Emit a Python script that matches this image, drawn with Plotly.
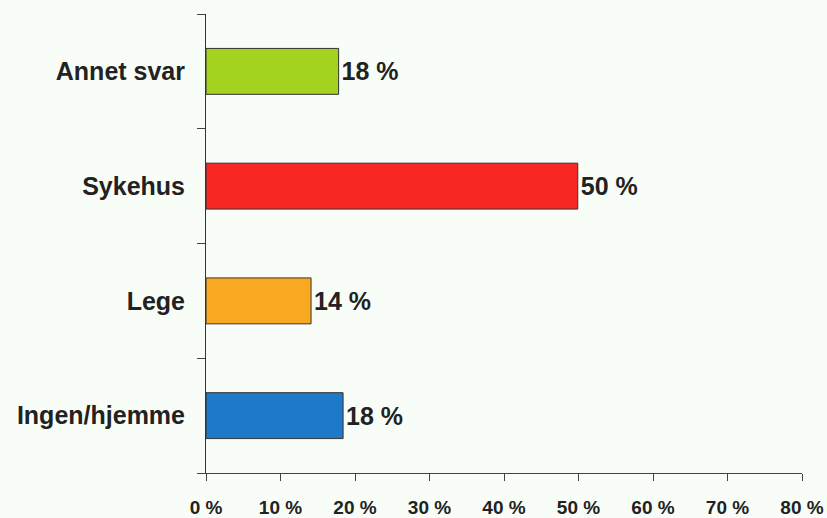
import plotly.graph_objects as go

categories = ["Ingen/hjemme", "Lege", "Sykehus", "Annet svar"]
values = [18.4, 14.1, 49.9, 17.8]
value_labels = ["18 %", "14 %", "50 %", "18 %"]
bar_colors = ["#1E79C9", "#F8A921", "#F62821", "#A3D31F"]
x_tick_values = [0, 10, 20, 30, 40, 50, 60, 70, 80]
x_tick_labels = ["0 %", "10 %", "20 %", "30 %", "40 %", "50 %", "60 %", "70 %", "80 %"]

FONT = "Liberation Sans, Arial, sans-serif"
TEXT = "#222222"
BG = "#F8FEF7"

fig = go.Figure(
    go.Bar(
        x=values,
        y=categories,
        orientation="h",
        width=0.4,
        marker=dict(color=bar_colors, line=dict(color="#333333", width=1)),
        text=value_labels,
        textposition="outside",
        cliponaxis=False,
        textfont=dict(family=FONT, size=25, color=TEXT, weight="bold"),
        hoverinfo="skip",
    )
)

fig.update_layout(
    width=827,
    height=518,
    margin=dict(l=206, r=25, t=14, b=45, autoexpand=False),
    paper_bgcolor=BG,
    plot_bgcolor=BG,
    showlegend=False,
    font=dict(family=FONT, color=TEXT),
)

fig.update_xaxes(
    range=[0, 80],
    tickvals=x_tick_values,
    ticktext=x_tick_labels,
    showgrid=False,
    zeroline=False,
    showline=True,
    linecolor="#444444",
    linewidth=1,
    ticks="outside",
    ticklen=7,
    tickcolor="#444444",
    tickfont=dict(family=FONT, size=19, color=TEXT, weight="bold"),
    ticklabelstandoff=10,
    automargin=False,
)

fig.update_yaxes(
    range=[-0.5, 3.5],
    showgrid=False,
    zeroline=False,
    showline=True,
    linecolor="#333333",
    linewidth=1,
    ticks="outside",
    tickson="boundaries",
    ticklen=8,
    tickcolor="#444444",
    tickfont=dict(family=FONT, size=25, color=TEXT, weight="bold"),
    ticklabelstandoff=15,
    automargin=False,
)

fig.write_html(
    "out.html",
    config={"displayModeBar": False},
    post_script="document.body.style.margin='0';document.body.style.background='#F8FEF7';",
)
